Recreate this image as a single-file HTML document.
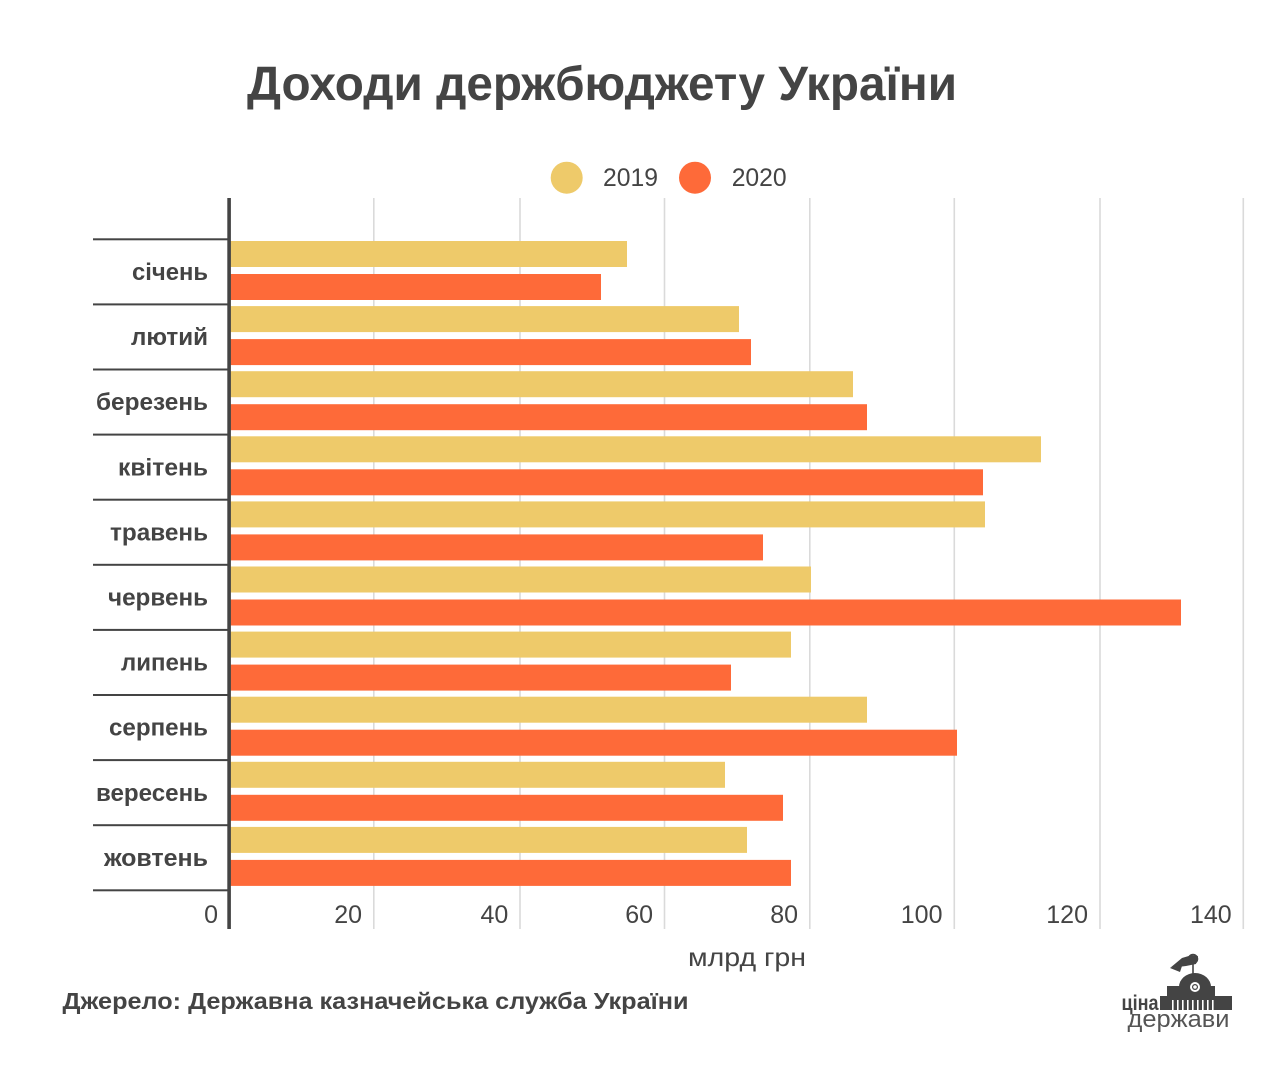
<!DOCTYPE html>
<html>
<head>
<meta charset="utf-8">
<style>
  html,body{margin:0;padding:0;background:#fff;}
  svg{display:block;}
  text{font-family:"Liberation Sans","DejaVu Sans",sans-serif;fill:#444;}
</style>
</head>
<body>
<svg width="1285" height="1076" viewBox="0 0 1285 1076" xmlns="http://www.w3.org/2000/svg">
  <rect width="1285" height="1076" fill="#fff"/>
  <!-- Title -->
  <text x="247" y="100" font-size="48" font-weight="bold" textLength="710" lengthAdjust="spacingAndGlyphs">Доходи держбюджету України</text>

  <!-- Legend -->
  <circle cx="566.7" cy="177.7" r="16" fill="#EECA6A"/>
  <text x="603" y="186" font-size="25" textLength="55" lengthAdjust="spacingAndGlyphs">2019</text>
  <circle cx="695" cy="177.7" r="16" fill="#FE6A39"/>
  <text x="731.7" y="186" font-size="25" textLength="55" lengthAdjust="spacingAndGlyphs">2020</text>

  <!-- Gridlines -->
  <g fill="#dadada">
    <rect x="373" y="198" width="1.6" height="731"/>
    <rect x="519.2" y="198" width="1.6" height="731"/>
    <rect x="663.7" y="198" width="1.6" height="731"/>
    <rect x="809" y="198" width="1.6" height="731"/>
    <rect x="953.5" y="198" width="1.6" height="731"/>
    <rect x="1099.2" y="198" width="1.6" height="731"/>
    <rect x="1242.5" y="198" width="1.6" height="731"/>
  </g>

  <!-- Bars -->
  <g>
    <rect x="229" y="241" width="398" height="26" fill="#EECA6A"/>
    <rect x="229" y="274" width="372" height="26" fill="#FE6A39"/>

    <rect x="229" y="306.1" width="510" height="26" fill="#EECA6A"/>
    <rect x="229" y="339.1" width="522" height="26" fill="#FE6A39"/>

    <rect x="229" y="371.2" width="624" height="26" fill="#EECA6A"/>
    <rect x="229" y="404.2" width="638" height="26" fill="#FE6A39"/>

    <rect x="229" y="436.3" width="812" height="26" fill="#EECA6A"/>
    <rect x="229" y="469.3" width="754" height="26" fill="#FE6A39"/>

    <rect x="229" y="501.4" width="756" height="26" fill="#EECA6A"/>
    <rect x="229" y="534.4" width="534" height="26" fill="#FE6A39"/>

    <rect x="229" y="566.5" width="582" height="26" fill="#EECA6A"/>
    <rect x="229" y="599.5" width="952" height="26" fill="#FE6A39"/>

    <rect x="229" y="631.6" width="562" height="26" fill="#EECA6A"/>
    <rect x="229" y="664.6" width="502" height="26" fill="#FE6A39"/>

    <rect x="229" y="696.7" width="638" height="26" fill="#EECA6A"/>
    <rect x="229" y="729.7" width="728" height="26" fill="#FE6A39"/>

    <rect x="229" y="761.8" width="496" height="26" fill="#EECA6A"/>
    <rect x="229" y="794.8" width="554" height="26" fill="#FE6A39"/>

    <rect x="229" y="826.9" width="518" height="26" fill="#EECA6A"/>
    <rect x="229" y="859.9" width="562" height="26" fill="#FE6A39"/>
  </g>

  <!-- Row separators -->
  <g fill="#444">
    <rect x="93" y="238.3" width="136" height="2"/>
    <rect x="93" y="303.4" width="136" height="2"/>
    <rect x="93" y="368.5" width="136" height="2"/>
    <rect x="93" y="433.6" width="136" height="2"/>
    <rect x="93" y="498.7" width="136" height="2"/>
    <rect x="93" y="563.8" width="136" height="2"/>
    <rect x="93" y="628.9" width="136" height="2"/>
    <rect x="93" y="694" width="136" height="2"/>
    <rect x="93" y="759.1" width="136" height="2"/>
    <rect x="93" y="824.2" width="136" height="2"/>
    <rect x="93" y="889.3" width="136" height="2"/>
  </g>

  <!-- Axis -->
  <rect x="227.3" y="198" width="3.6" height="731" fill="#444"/>

  <!-- Month labels -->
  <g font-size="24" font-weight="bold" text-anchor="end">
    <text x="208" y="280" textLength="76" lengthAdjust="spacingAndGlyphs">січень</text>
    <text x="208" y="345.1" textLength="77" lengthAdjust="spacingAndGlyphs">лютий</text>
    <text x="208" y="410.2" textLength="112" lengthAdjust="spacingAndGlyphs">березень</text>
    <text x="208" y="475.3" textLength="90" lengthAdjust="spacingAndGlyphs">квітень</text>
    <text x="208" y="540.4" textLength="98" lengthAdjust="spacingAndGlyphs">травень</text>
    <text x="208" y="605.5" textLength="100" lengthAdjust="spacingAndGlyphs">червень</text>
    <text x="208" y="670.6" textLength="87" lengthAdjust="spacingAndGlyphs">липень</text>
    <text x="208" y="735.7" textLength="99" lengthAdjust="spacingAndGlyphs">серпень</text>
    <text x="208" y="800.8" textLength="112" lengthAdjust="spacingAndGlyphs">вересень</text>
    <text x="208" y="865.9" textLength="104" lengthAdjust="spacingAndGlyphs">жовтень</text>
  </g>

  <!-- Tick labels -->
  <g font-size="25" text-anchor="end">
    <text x="218" y="923">0</text>
    <text x="362" y="923">20</text>
    <text x="508.3" y="923">40</text>
    <text x="653" y="923">60</text>
    <text x="798" y="923">80</text>
    <text x="942.5" y="923">100</text>
    <text x="1088" y="923">120</text>
    <text x="1231.7" y="923">140</text>
  </g>

  <!-- Axis title -->
  <text x="688" y="966" font-size="26" textLength="118" lengthAdjust="spacingAndGlyphs">млрд грн</text>

  <!-- Source -->
  <text x="62.5" y="1009" font-size="23" font-weight="bold" textLength="626" lengthAdjust="spacingAndGlyphs">Джерело: Державна казначейська служба України</text>

  <!-- Logo -->
  <g fill="#444">
    <!-- bird / flag -->
    <path d="M1170 968 L1182 958 L1192 955 L1198 956 L1196 964 L1186 966 Z"/>
    <path d="M1170 968 L1182 966 L1180 972 Z"/>
    <circle cx="1193" cy="959" r="4.5" fill="none" stroke="#444" stroke-width="1.6"/>
    <rect x="1192.2" y="962" width="1.6" height="14"/>
    <!-- dome -->
    <path d="M1179 987 A16 14 0 0 1 1211 987 Z"/>
    <rect x="1167" y="986" width="48" height="11"/>
    <circle cx="1195" cy="987" r="5" fill="#fff"/>
    <circle cx="1195" cy="987" r="3" fill="#444"/>
    <circle cx="1195" cy="987" r="1.8" fill="#fff"/>
    <!-- base with columns -->
    <rect x="1160" y="996" width="72" height="14"/>
    <g fill="#fff">
      <rect x="1172" y="1000" width="1.6" height="10"/>
      <rect x="1177" y="1000" width="1.6" height="10"/>
      <rect x="1182" y="1000" width="1.6" height="10"/>
      <rect x="1187" y="1000" width="1.6" height="10"/>
      <rect x="1192" y="1000" width="1.6" height="10"/>
      <rect x="1197" y="1000" width="1.6" height="10"/>
      <rect x="1202" y="1000" width="1.6" height="10"/>
      <rect x="1207" y="1000" width="1.6" height="10"/>
      <rect x="1212" y="1000" width="1.6" height="10"/>
    </g>
  </g>
  <text x="1121.5" y="1010" font-size="21" font-weight="bold" textLength="37" lengthAdjust="spacingAndGlyphs">ціна</text>
  <text x="1127.5" y="1027" font-size="24" textLength="102" lengthAdjust="spacingAndGlyphs" style="fill:#555">держави</text>
</svg>
</body>
</html>
